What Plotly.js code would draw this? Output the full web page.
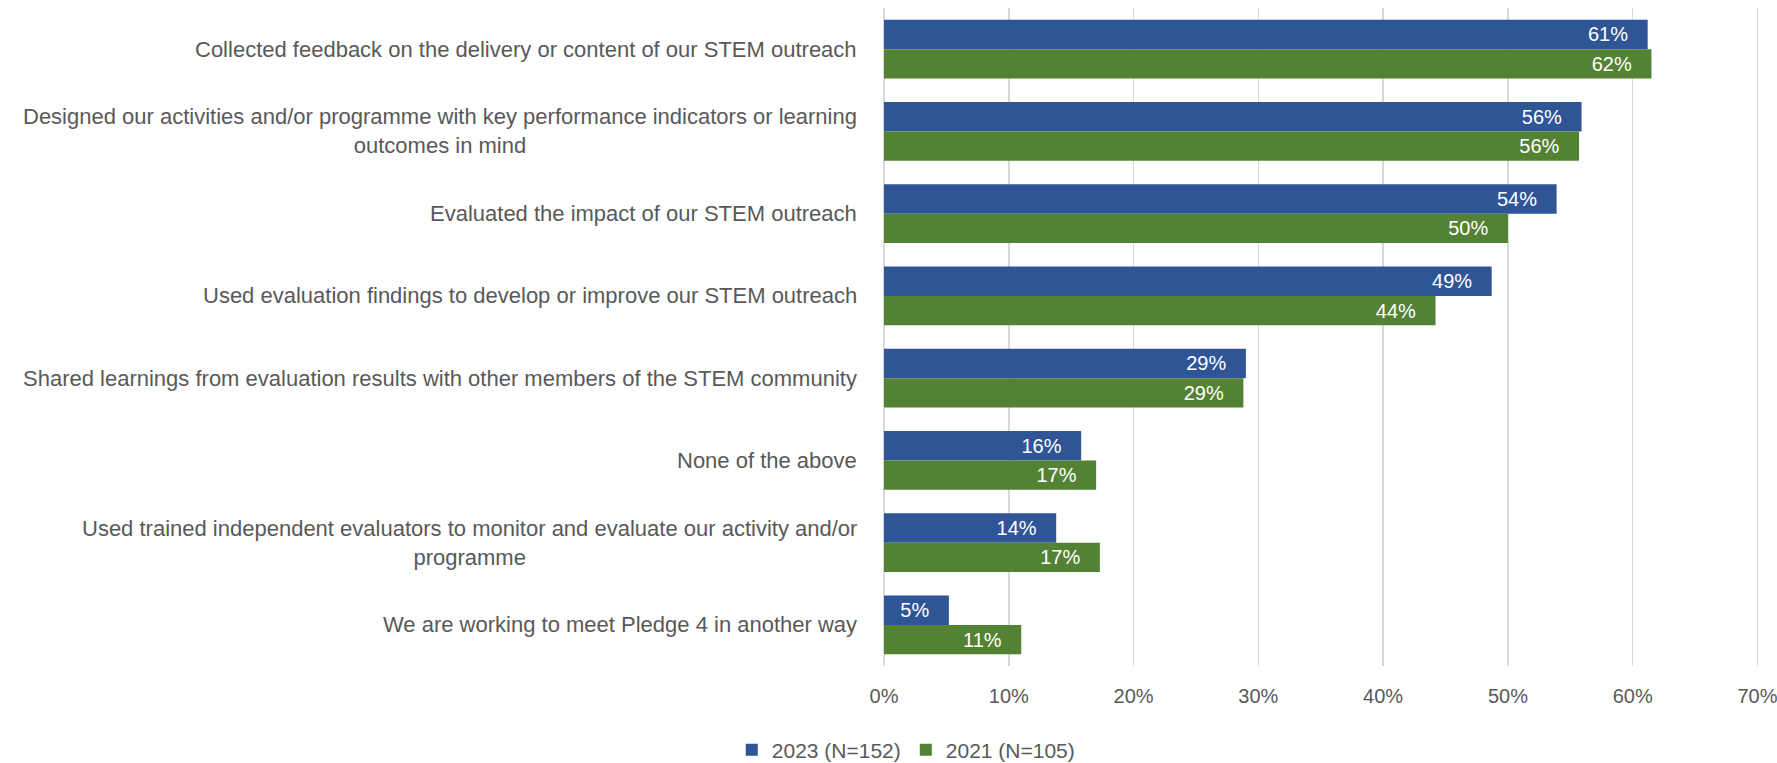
<!DOCTYPE html>
<html>
<head>
<meta charset="utf-8">
<script src="https://cdn.plot.ly/plotly-3.0.1.min.js"></script>
<style>html,body{margin:0;padding:0;background:#fff;}#chart{width:1777px;height:763px;}</style>
</head>
<body>
<div id="chart"></div>
<script>
const categories = [
  "Collected feedback on the delivery or content of our STEM outreach",
  "Designed our activities and/or programme with key performance indicators or learning<br>outcomes in mind",
  "Evaluated the impact of our STEM outreach",
  "Used evaluation findings to develop or improve our STEM outreach",
  "Shared learnings from evaluation results with other members of the STEM community",
  "None of the above",
  "Used trained independent evaluators to monitor and evaluate our activity and/or<br>programme",
  "We are working to meet Pledge 4 in another way"
];
const values2023 = [61.2, 55.9, 53.9, 48.7, 29.0, 15.8, 13.8, 5.2];
const values2021 = [61.5, 55.7, 50.0, 44.2, 28.8, 17.0, 17.3, 11.0];
const seriesNames = ["2023 (N=152)", "2021 (N=105)"];
const xTickVals = [0, 10, 20, 30, 40, 50, 60, 70];
const xTickText = ["0%", "10%", "20%", "30%", "40%", "50%", "60%", "70%"];

const FONT = "'Liberation Sans', Arial, sans-serif";
const GRAY = "#595959";
const catIdx = categories.map((c, i) => i);

function barTrace(vals, name, color) {
  return {
    type: "bar", orientation: "h", name: name,
    x: vals, y: catIdx,
    marker: {color: color, line: {width: 0}},
    texttemplate: "%{x:.0f}%\u00a0\u00a0\u00a0",
    textposition: "inside", insidetextanchor: "end",
    insidetextfont: {color: "#ffffff", size: 20, family: FONT},
    constraintext: "none",
    hoverinfo: "skip"
  };
}

const data = [
  barTrace(values2023, seriesNames[0], "#2F5597"),
  barTrace(values2021, seriesNames[1], "#548235")
];

const annotations = categories.map((c, i) => ({
  xref: "paper", yref: "y", x: 0, y: i,
  xanchor: "right", yanchor: "middle", xshift: -25,
  text: c, align: "center", showarrow: false,
  font: {family: FONT, size: 22, color: GRAY}
}));

const layout = {
  width: 1777, height: 763,
  margin: {l: 884, r: 17.5, t: 7.5, b: 97.4},
  paper_bgcolor: "#fff", plot_bgcolor: "#fff",
  barmode: "group", bargap: 0.283, bargroupgap: 0,
  font: {family: FONT, color: GRAY},
  xaxis: {
    range: [0, 70.12], tickmode: "array", tickvals: xTickVals, ticktext: xTickText,
    showgrid: true, gridcolor: "#d9d9d9", gridwidth: 1.5,
    zeroline: true, zerolinecolor: "#d9d9d9", zerolinewidth: 1.5,
    showline: false, ticks: "",
    ticklabelstandoff: 16, ticklabeloverflow: "allow",
    tickfont: {family: FONT, size: 20, color: GRAY},
    fixedrange: true
  },
  yaxis: {
    range: [7.5, -0.5], showticklabels: false, showgrid: false,
    zeroline: false, showline: false, ticks: "", fixedrange: true
  },
  annotations: annotations,
  showlegend: true,
  legend: {
    orientation: "h", xref: "container", yref: "container",
    x: 0.51, xanchor: "center", y: 0.017, yanchor: "middle",
    font: {family: FONT, size: 21, color: GRAY},
    traceorder: "normal", itemwidth: 30
  }
};

Plotly.newPlot("chart", data, layout, {displayModeBar: false, staticPlot: true});
</script>
</body>
</html>
